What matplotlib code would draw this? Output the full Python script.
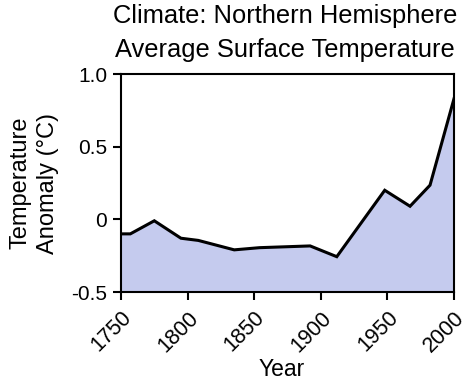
import matplotlib.pyplot as plt

plt.rcParams['font.family'] = ['Liberation Sans', 'DejaVu Sans']

# data
years = [1750, 1757, 1775, 1795, 1808, 1835, 1854, 1892, 1912, 1948, 1967, 1982, 2000]
anomaly = [-0.10, -0.10, -0.01, -0.13, -0.145, -0.21, -0.195, -0.183, -0.257, 0.20, 0.09, 0.235, 0.83]
xticks = [1750, 1800, 1850, 1900, 1950, 2000]
yticks = [-0.5, 0, 0.5, 1.0]
ytick_labels = ['-0.5', '0', '0.5', '1.0']

fig = plt.figure(figsize=(4.74, 3.83), dpi=100)
ax = fig.add_axes([121 / 474, 1 - 292 / 383, 333 / 474, 218 / 383])

ax.fill_between(years, -0.5, anomaly, color='#c5cbee', lw=0)
ax.plot(years, anomaly, color='black', lw=2.2, solid_joinstyle='miter')

ax.set_xlim(1750, 2000)
ax.set_ylim(-0.5, 1.0)
ax.set_xticks(xticks)
ax.set_xticklabels([str(x) for x in xticks], rotation=45, ha='right',
                   rotation_mode='anchor', fontsize=15.5)
ax.set_yticks(yticks)
ax.set_yticklabels(ytick_labels, fontsize=15)

for s in ax.spines.values():
    s.set_linewidth(1.5)
ax.tick_params(direction='out', length=6, width=1.5, pad=4)
ax.tick_params(axis='x', pad=5)

ax.set_xlabel('Year', fontsize=16.5, labelpad=1, x=0.483)
ax.set_ylabel('Temperature\nAnomaly (\u00b0C)', fontsize=17, labelpad=9,
              linespacing=1.3)
ax.set_title('Climate: Northern Hemisphere\nAverage Surface Temperature',
             fontsize=18.4, linespacing=1.55, pad=12, x=0.4925)

fig.savefig('out.png', dpi=100)
